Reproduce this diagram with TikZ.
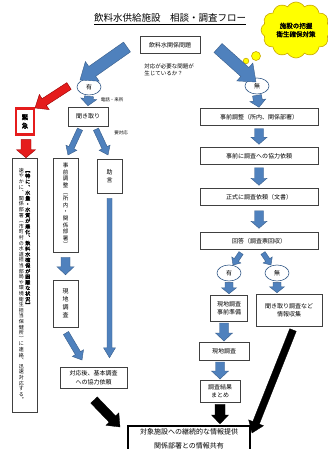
\documentclass[tikz,border=0pt]{standalone}
\usepackage{fontspec}
\setmainfont{Noto Sans CJK JP}[BoldFont={Noto Sans CJK JP},BoldFeatures={FakeBold=2}]
\usetikzlibrary{calc,shapes.symbols,shapes.geometric}
\definecolor{abl}{HTML}{4F81BD}
\definecolor{abld}{HTML}{385D8A}
\definecolor{ared}{HTML}{E51C1C}
\definecolor{cloudy}{HTML}{FFFF00}
\definecolor{cloudo}{HTML}{C9A800}
\ExplSyntaxOn
\cs_new_protected:Npn \vtextmap #1 { \tl_map_inline:nn {#1} { \hbox_to_wd:nn {1em} { \hss ##1 \hss } } }
\ExplSyntaxOff
\newcommand\vtext[2][1.15]{\vtop{\baselineskip=#1em\lineskiplimit=-20pt\lineskip=0pt\relax\vtextmap{#2}}}
\newcommand\blockarrow[6]{%
 \path (#1) coordinate (ba-s) (#2) coordinate (ba-e);
 \path ($(ba-e)!#5!(ba-s)$) coordinate (ba-h);
 \filldraw[#6] ($(ba-s)!#3!90:(ba-e)$) -- ($(ba-h)!#3!-90:(ba-s)$) -- ($(ba-h)!#4!-90:(ba-s)$) -- (ba-e) -- ($(ba-h)!#4!90:(ba-s)$) -- ($(ba-h)!#3!90:(ba-s)$) -- ($(ba-s)!#3!-90:(ba-e)$) -- cycle;}
\begin{document}
\begin{tikzpicture}[x=1pt,y=-1pt,
 box/.style={draw=black!75,line width=0.5pt,fill=white,inner sep=1.5pt,align=center,font=\fontsize{6}{8.5}\selectfont},
 vbx/.style={draw=black!75,line width=0.5pt,fill=white,inner sep=0pt,minimum width=25pt},
 oval/.style={ellipse,draw=abld,line width=0.6pt,fill=white,minimum width=24pt,minimum height=16pt,inner sep=0pt,font=\fontsize{6}{7}\selectfont},
 lbl/.style={font=\fontsize{4.5}{5.5}\selectfont,inner sep=0pt},
 barw/.style={fill=abl,draw=abld,line width=0.4pt},
 rarw/.style={fill=ared,draw=red!60!black,line width=0.4pt},
 karw/.style={fill=black,draw=black,line width=0.3pt}]
\useasboundingbox (0,0) rectangle (327,449);
\fill[white] (0,0) rectangle (327,449);

% title and top
\node[font=\fontsize{9.5}{11}\selectfont,inner sep=0pt] (title) at (170,19) {\underline{飲料水供給施設　相談・調査フロー}};
\node[box,minimum width=60,minimum height=17] (q) at (170,45) {飲料水関係問題};
\node[font=\fontsize{5.5}{7}\selectfont,align=left,inner sep=0pt] (ask) at (169,70) {対応が必要な問題が\\生じているか？};
\node[cloud,cloud puffs=12,cloud puff arc=120,aspect=1.3,fill=cloudy,draw=cloudo,line width=0.6pt,minimum width=70,minimum height=56,inner sep=0pt,align=center,font=\bfseries\fontsize{6.5}{8.5}\selectfont] (cl) at (296,30) {施設の把握\\衛生確保対策};
\draw[fill=cloudy,draw=cloudo,line width=0.6pt] (256,56) circle (4.5) (246,61) circle (2.8);

\node[oval] (yes1) at (89,87) {有};
\node[oval] (no1) at (257,86) {無};

% left branch
\node[box,minimum width=40,minimum height=19] (hear) at (88,116.5) {聞き取り};
\node[lbl] (tel) at (112,100) {電話・来所};
\node[lbl] (need) at (121,133) {要対応};
\node[draw=ared,line width=2.2pt,fill=white,minimum width=18,minimum height=26,inner sep=0pt,font=\bfseries\fontsize{6.5}{7}\selectfont] (urg) at (25,121.5) {\vtext[1.3]{緊急}};
\node[vbx,minimum height=254,font=\fontsize{5}{6}\selectfont] (long) at (24.5,285) {\hbox{\vtext[1.12]{速やかに︑関係部署︵市町村の水道担当部局や環境衛生担当保健所︶に連絡︑迅速対応する︒}\kern1.5pt{\bfseries\vtext[1.12]{︻特に︑水量・水質が悪化︑飲料水確保が困難な状況︼}}}};
\node[vbx,minimum height=94,font=\fontsize{5.5}{6}\selectfont] (pre) at (65.5,205) {\vtext[1.2]{事前調整︵所内・関係部署︶}};
\node[vbx,minimum height=34,font=\fontsize{6}{7}\selectfont] (adv) at (109.5,176) {\vtext[1.3]{助言}};
\node[vbx,minimum height=47,font=\fontsize{6}{7}\selectfont] (site1) at (65.5,303.5) {\vtext[1.35]{現地調査}};
\node[box,minimum width=67,minimum height=21] (resp) at (93.5,377.5) {対応後、基本調査\\への協力依頼};

% right branch
\node[box,minimum width=118,minimum height=17] (R1) at (259,117) {事前調整（所内、関係部署）};
\node[box,minimum width=118,minimum height=17] (R2) at (259,156) {事前に調査への協力依頼};
\node[box,minimum width=118,minimum height=17] (R3) at (259,197) {正式に調査依頼（文書）};
\node[box,minimum width=118,minimum height=17] (R4) at (259,241) {回答（調査票回収）};
\node[oval] (yes2) at (229,273) {有};
\node[oval] (no2) at (277,273) {無};
\node[box,minimum width=37,minimum height=26] (prep) at (229,308) {現地調査\\事前準備};
\node[box,minimum width=66,minimum height=32] (info) at (289,310) {聞き取り調査など\\情報収集};
\node[box,minimum width=50,minimum height=18] (site2) at (224,351) {現地調査};
\node[box,minimum width=40,minimum height=22] (summ) at (220,391) {調査結果\\まとめ};

% bottom
\node[draw=black,line width=1.6pt,fill=white,anchor=north,minimum width=122,inner ysep=3pt,align=center,font=\fontsize{7}{14}\selectfont] (bot) at (189,425) {対象施設への継続的な情報提供\\関係部署との情報共有};

% arrows
\blockarrow{127,47}{80,80}{6pt}{12pt}{15pt}{barw}
\blockarrow{218,48}{256,82}{6pt}{12pt}{15pt}{barw}
\blockarrow{$(yes1.south)+(0,1)$}{$(hear.north)+(0,-1)$}{4.5pt}{8pt}{7pt}{barw}
\blockarrow{$(no1.south)+(0,1)$}{$(R1.north)+(0,-1)$}{4.5pt}{8pt}{7pt}{barw}
\blockarrow{$(R1.south)+(0,3)$}{$(R2.north)+(0,-3)$}{4.5pt}{8pt}{7pt}{barw}
\blockarrow{$(R2.south)+(0,3)$}{$(R3.north)+(0,-3)$}{4.5pt}{8pt}{7pt}{barw}
\blockarrow{$(R3.south)+(0,5)$}{$(R4.north)+(0,-4)$}{4.5pt}{8pt}{7pt}{barw}
\blockarrow{241,253}{233,265}{2.5pt}{5.5pt}{6pt}{barw}
\blockarrow{263,253}{271,265}{2.5pt}{5.5pt}{6pt}{barw}
\blockarrow{$(yes2.south)+(0,1)$}{$(prep.north)+(0,-1)$}{4pt}{7.5pt}{6pt}{barw}
\blockarrow{$(no2.south)+(0,1)$}{$(no2.south|-info.north)+(0,-1)$}{4pt}{7.5pt}{6pt}{barw}
\blockarrow{224,323}{224,341}{4.5pt}{8.5pt}{8pt}{barw}
\blockarrow{220,362}{220,379}{4.5pt}{8.5pt}{8pt}{barw}
\blockarrow{$(hear.south)+(-8,3)$}{68,155}{2.8pt}{6pt}{8pt}{barw}
\blockarrow{$(hear.south)+(8,3)$}{108,155}{2.8pt}{6pt}{8pt}{barw}
\blockarrow{$(adv.south)+(0,5)$}{$(adv.south|-resp.north)+(0,-9)$}{2.5pt}{6pt}{10pt}{barw}
\blockarrow{$(pre.south)+(0,5)$}{$(site1.north)+(0,-5)$}{4.5pt}{8.5pt}{8pt}{barw}
\blockarrow{66,333}{82,360}{3pt}{6.5pt}{8pt}{barw}
\blockarrow{69,86}{35,108}{4pt}{9pt}{11pt}{rarw}
\blockarrow{$(urg.south)+(1,4)$}{$(long.north)+(1.5,0)$}{5pt}{9.5pt}{8pt}{rarw}
\blockarrow{94,400}{120,427}{4.5pt}{9pt}{11pt}{karw}
\blockarrow{$(summ.south)+(0,2)$}{$(summ.south|-bot.north)+(0,-1)$}{5pt}{8.5pt}{9pt}{karw}
\blockarrow{293,330}{252,433}{3.5pt}{8pt}{11pt}{karw}
\end{tikzpicture}
\end{document}
